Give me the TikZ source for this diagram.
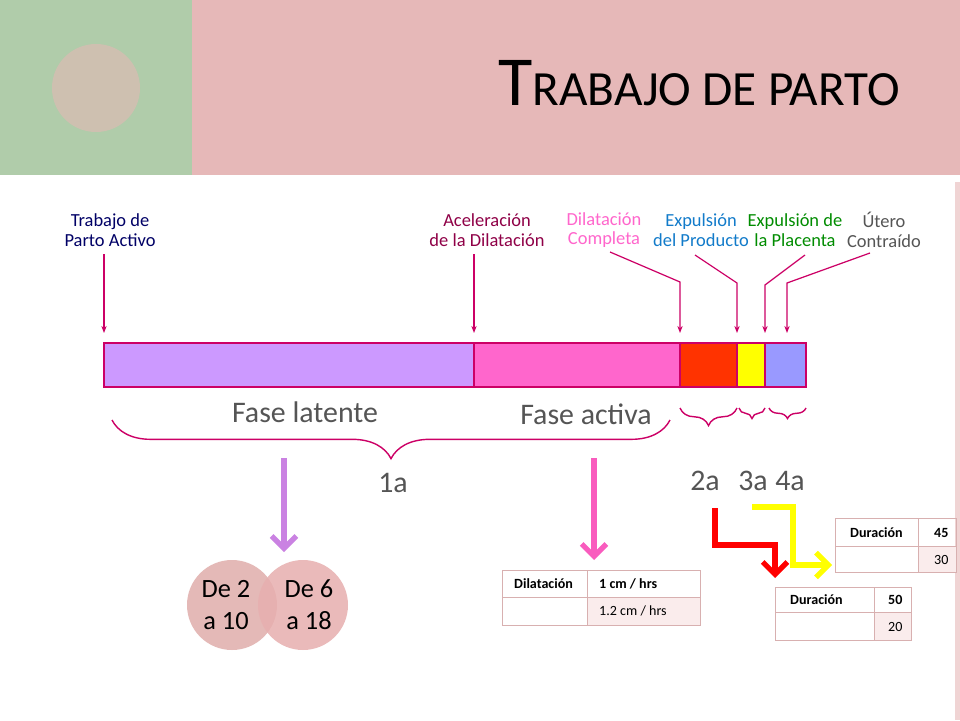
\documentclass[tikz,border=0pt]{standalone}
\usepackage{fontspec}
\setmainfont{Carlito}
\usetikzlibrary{positioning}
\usetikzlibrary{decorations.pathreplacing}
\usetikzlibrary{arrows.meta}

\definecolor{bandgreen}{RGB}{176,204,170}
\definecolor{bandpink}{RGB}{230,184,184}
\definecolor{dotcol}{RGB}{206,192,176}
\definecolor{barline}{RGB}{204,0,102}
\definecolor{latente}{RGB}{204,153,255}
\definecolor{activa}{RGB}{255,102,204}
\definecolor{segred}{RGB}{255,51,0}
\definecolor{segyel}{RGB}{255,255,0}
\definecolor{segblue}{RGB}{153,153,255}
\definecolor{tblline}{RGB}{216,176,176}
\definecolor{tblfill}{RGB}{250,236,236}
\definecolor{graytext}{RGB}{85,85,85}

\tikzset{
  seg/.style={draw=barline,line width=1pt},
  pointer/.style={draw=barline,line width=0.7pt,-{Stealth[length=4pt,width=3pt]}},
  toplabel/.style={font=\fontsize{10.5}{11}\selectfont,align=center,inner sep=1pt},
  brace/.style={decorate,decoration={brace,mirror,amplitude=#1},draw=barline,line width=0.8pt},
  phase/.style={font=\fontsize{17}{18}\selectfont,text=graytext},
  bigarrow/.style={line width=3pt,-{Straight Barb[length=7pt,width=14pt]}},
  cell/.style={draw=tblline,line width=0.8pt,minimum height=#1,anchor=north west,inner sep=0pt},
  celltext/.style={font=\fontsize{8}{9}\selectfont\bfseries,anchor=west},
}

\begin{document}
\begin{tikzpicture}[x=0.02cm,y=-0.02cm]
	\useasboundingbox (0,0) rectangle (960,720);
	
	% header band
	\fill[white] (0,0) rectangle (960,720);
	\fill[bandgreen] (0,0) rectangle (192,175);
	\fill[bandpink] (192,0) rectangle (960,175);
	\fill[bandpink!60] (955,182) rectangle (960,720);
	\fill[dotcol] (96,88) circle (44);
	\node[anchor=base east,inner sep=0pt] (title) at (900,105)
		{\fontsize{40}{40}\selectfont T\fontsize{28}{28}\selectfont RABAJO DE PARTO};
	
	% bar
	\filldraw[seg,fill=latente] (104,343) rectangle (474,387);
	\filldraw[seg,fill=activa] (474,343) rectangle (680,387);
	\filldraw[seg,fill=segred] (680,343) rectangle (737,387);
	\filldraw[seg,fill=segyel] (737,343) rectangle (765,387);
	\filldraw[seg,fill=segblue] (765,343) rectangle (806,387);
	
	% labels above the bar
	\node[toplabel,text=blue!40!black] (tpa) at (110,230) {Trabajo de\\Parto Activo};
	\node[toplabel,text=barline!70!black] (acel) at (487,230) {Aceleración\\de la Dilatación};
	\node[toplabel,text=activa] (dilc) at (604,230) {Dilatación\\Completa};
	\node[toplabel,text=cyan!60!blue] (expp) at (701,230) {Expulsión\\del Producto};
	\node[toplabel,text=green!55!black] (expl) at (795,230) {Expulsión de\\la Placenta};
	\node[toplabel,text=graytext] (utero) at (884,230) {Útero\\Contraído};
	
	\draw[pointer] (tpa.south -| 104,0) ++(0,6) -- (104,333);
	\draw[pointer] (acel.south -| 474,0) ++(0,6) -- (474,333);
	\draw[pointer] (610,252) -- (680,282) -- (680,333);
	\draw[pointer] (695,255) -- (737,283) -- (737,333);
	\draw[pointer] (805,255) -- (765,285) -- (765,333);
	\draw[pointer] (870,253) -- (787,283) -- (787,333);
	
	% braces
	\draw[brace=22pt] (112,420) -- (670,420);
	\draw[brace=10pt] (680,408) -- (737,408);
	\draw[brace=6pt] (739,408) -- (765,408);
	\draw[brace=6pt] (769,408) -- (806,408);
	\node[phase] (latent) at (305,412) {Fase latente};
	\node[phase] (active) at (586,414) {Fase activa};
	\node[phase] (s1) at (393,483) {1a};
	\node[phase] (s2) at (705,481) {2a};
	\node[phase] (s3) at (753,481) {3a};
	\node[phase] (s4) at (790,481) {4a};
	
	% circles
	\fill[bandpink!90!dotcol] (232,605) circle (45);
	\fill[bandpink!95!red,opacity=0.85] (303,605) circle (45);
	\node[font=\fontsize{15}{18}\selectfont,align=center] (lat) at (226,605) {De 2\\a 10};
	\node[font=\fontsize{15}{18}\selectfont,align=center] (act) at (309,605) {De 6\\a 18};
	
	% tables
	\node[cell=27*0.02cm,minimum width=85*0.02cm] (d11) at (502,570) {};
	\node[cell=27*0.02cm,minimum width=113*0.02cm] (d12) at (587,570) {};
	\node[cell=28*0.02cm,minimum width=85*0.02cm] (d21) at (502,597) {};
	\node[cell=28*0.02cm,minimum width=113*0.02cm,fill=tblfill] (d22) at (587,597) {};
	\node[celltext] at (508,584) {Dilatación};
	\node[celltext] at (593,584) {1 cm / hrs};
	\node[celltext,font=\fontsize{8}{9}\selectfont] at (593,611) {1.2 cm / hrs};
	
	\node[cell=25*0.02cm,minimum width=99*0.02cm] (r11) at (775,587) {};
	\node[cell=25*0.02cm,minimum width=37*0.02cm] (r12) at (874,587) {};
	\node[cell=28*0.02cm,minimum width=99*0.02cm] (r21) at (775,612) {};
	\node[cell=28*0.02cm,minimum width=37*0.02cm,fill=tblfill] (r22) at (874,612) {};
	\node[celltext] at (784,600) {Duración};
	\node[celltext] at (882,600) {50};
	\node[celltext,font=\fontsize{8}{9}\selectfont] at (882,627) {20};
	
	\node[cell=28*0.02cm,minimum width=83*0.02cm] (y11) at (835,518) {};
	\node[cell=28*0.02cm,minimum width=38*0.02cm] (y12) at (918,518) {};
	\node[cell=26*0.02cm,minimum width=83*0.02cm] (y21) at (835,546) {};
	\node[cell=26*0.02cm,minimum width=38*0.02cm,fill=tblfill] (y22) at (918,546) {};
	\node[celltext] at (844,533) {Duración};
	\node[celltext] at (928,533) {45};
	\node[celltext,font=\fontsize{8}{9}\selectfont] at (928,560) {30};
	
	% big arrows
	\draw[bigarrow,draw=latente!85!purple] (284,458) -- (284,552);
	\draw[bigarrow,draw=activa!90!purple] (594,458) -- (594,560);
	\draw[bigarrow,draw=red,line join=miter] (715,508) -- (715,545) -- (775,545) -- (775,578);
	\draw[bigarrow,draw=segyel,line join=miter] (752,507) -- (793,507) -- (793,565) -- (832,565);
\end{tikzpicture}
\end{document}
